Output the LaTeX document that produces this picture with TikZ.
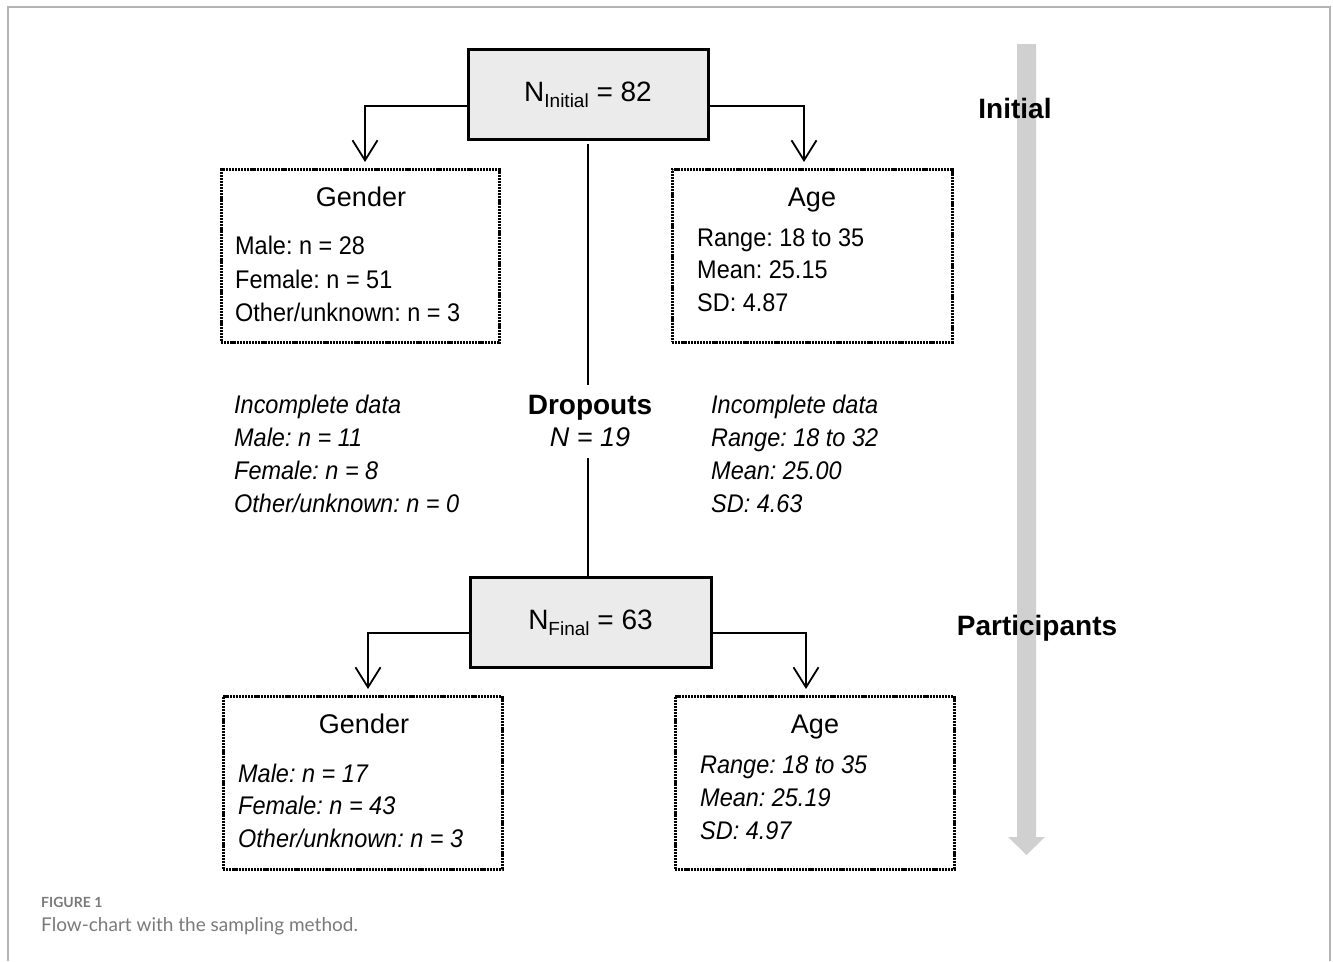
\documentclass[tikz,border=0pt]{standalone}
\usepackage{fontspec}
\setmainfont{Liberation Sans}
\newfontfamily\bodyfont[FakeStretch=0.92]{Liberation Sans}
\newfontfamily\capfont{Lato}
\usetikzlibrary{arrows.meta}
\frenchspacing
\definecolor{boxfill}{HTML}{EBEBEB}
\definecolor{arrowgray}{HTML}{D0D0D0}
\definecolor{framegray}{HTML}{B4B4B4}
\definecolor{capgray}{HTML}{7A7A7A}
\tikzset{
  mainbox/.style={draw=black, line width=3pt, fill=boxfill, minimum height=90pt, inner sep=0pt},
  infobox/.style={draw=black, line width=3pt, dash pattern=on 2.2pt off 0.9pt, minimum height=173pt, inner sep=0pt},
  conn/.style={draw=black, line width=1.8pt, -{Straight Barb[length=20pt,width=25pt]}},
  vline/.style={draw=black, line width=1.8pt},
  txt/.style={anchor=base west, inner sep=0pt, font=\bodyfont\fontsize{25.5}{30}\selectfont},
  itxt/.style={txt, font=\bodyfont\itshape\fontsize{25.5}{30}\selectfont},
  ttl/.style={anchor=base, inner sep=0pt, font=\fontsize{27}{30}\selectfont},
  bold/.style={anchor=base, inner sep=0pt, font=\bfseries\fontsize{28}{30}\selectfont}
}
\begin{document}
\begin{tikzpicture}[x=1pt, y=-1pt]
\useasboundingbox (0,0) rectangle (1333,961);
% frame
\draw[framegray, line width=1.5pt] (8,961) -- (8,7) -- (1330,7) -- (1330,961);
% gray progress arrow
\fill[arrowgray] (1017,44) -- (1036,44) -- (1036,837) -- (1045,837) -- (1026.5,855) -- (1008,837) -- (1017,837) -- cycle;

% main boxes
\node[mainbox, minimum width=240pt] (init) at (588,94) {};
\node[anchor=base, inner sep=0pt, font=\fontsize{28}{30}\selectfont] (initT) at (588,101)
  {N\raisebox{-6pt}{\fontsize{19}{19}\selectfont Initial} = 82};
\node[mainbox, minimum width=241pt] (fin) at (590.5,622) {};
\node[anchor=base, inner sep=0pt, font=\fontsize{28}{30}\selectfont] (finT) at (590.5,629)
  {N\raisebox{-6pt}{\fontsize{19}{19}\selectfont Final} = 63};

% info boxes
\node[infobox, minimum width=278pt] (gtop) at (360,255.5) {};
\node[infobox, minimum width=280pt] (atop) at (812,255.5) {};
\node[infobox, minimum width=279pt] (gbot) at (362.5,782.5) {};
\node[infobox, minimum width=279pt] (abot) at (814.5,782.5) {};

% dropouts
\node[minimum height=73pt, minimum width=10pt, inner sep=0pt] (drop) at (588,421.5) {};
\node[bold] (dropT) at (590,414) {Dropouts};
\node[anchor=base, inner sep=0pt, font=\itshape\fontsize{27}{30}\selectfont] (dropN) at (590,446) {N = 19};

% connectors
\draw[conn] ([yshift=-12pt]init.west) -| ([xshift=5pt,yshift=5.5pt]gtop.north);
\draw[conn] ([yshift=-12pt]init.east) -| ([xshift=-8pt,yshift=5.5pt]atop.north);
\draw[conn] ([yshift=-11pt]fin.west) -| ([xshift=5.5pt,yshift=5.5pt]gbot.north);
\draw[conn] ([yshift=-11pt]fin.east) -| ([xshift=-8.5pt,yshift=5.5pt]abot.north);
\draw[vline] ([yshift=-3pt]init.south) -- (drop.north);
\draw[vline] (drop.south) -- (drop.south |- fin.north);

% top gender
\node[ttl] (gtT) at (361,206) {Gender};
\node[txt] (gt1) at (235,254) {Male: n = 28};
\node[txt] (gt2) at (235,288) {Female: n = 51};
\node[txt] (gt3) at (235,321) {Other/unknown: n = 3};
% top age
\node[ttl] (atT) at (812,206) {Age};
\node[txt] (at1) at (697,246) {Range: 18 to 35};
\node[txt] (at2) at (697,278) {Mean: 25.15};
\node[txt] (at3) at (697,311) {SD: 4.87};

% incomplete left
\node[itxt] (il0) at (234,413) {Incomplete data};
\node[itxt] (il1) at (234,446) {Male: n = 11};
\node[itxt] (il2) at (234,479) {Female: n = 8};
\node[itxt] (il3) at (234,512) {Other/unknown: n = 0};
% incomplete right
\node[itxt] (ir0) at (711,413) {Incomplete data};
\node[itxt] (ir1) at (711,446) {Range: 18 to 32};
\node[itxt] (ir2) at (711,479) {Mean: 25.00};
\node[itxt] (ir3) at (711,512) {SD: 4.63};

% bottom gender
\node[ttl] (gbT) at (364,733) {Gender};
\node[itxt] (gb1) at (238,782) {Male: n = 17};
\node[itxt] (gb2) at (238,814) {Female: n = 43};
\node[itxt] (gb3) at (238,847) {Other/unknown: n = 3};
% bottom age
\node[ttl] (abT) at (815,733) {Age};
\node[itxt] (ab1) at (700,773) {Range: 18 to 35};
\node[itxt] (ab2) at (700,806) {Mean: 25.19};
\node[itxt] (ab3) at (700,839) {SD: 4.97};

% side labels
\node[bold] (lblI) at (1015,118) {Initial};
\node[bold] (lblP) at (1037,635) {Participants};

% caption
\node[anchor=base west, inner sep=0pt, text=capgray, font=\capfont\bfseries\fontsize{14}{15}\selectfont] (figno) at (41,907) {FIGURE 1};
\node[anchor=base west, inner sep=0pt, text=capgray, font=\capfont\fontsize{19}{20}\selectfont] (cap) at (41,931) {Flow-chart with the sampling method.};
\end{tikzpicture}
\end{document}
